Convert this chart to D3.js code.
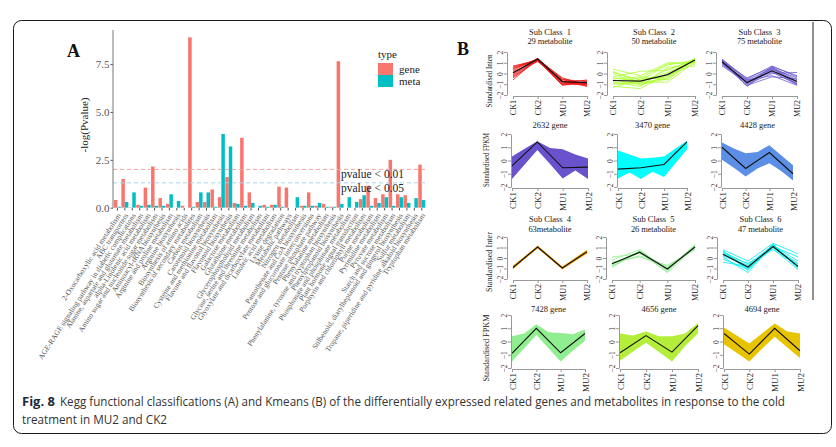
<!DOCTYPE html>
<html><head><meta charset="utf-8">
<script src="https://cdn.jsdelivr.net/npm/d3@7"></script>
<style>body{margin:0;background:#fff} svg{display:block}</style>
</head><body><svg id="c" width="836" height="447"></svg>
<script>
// ---------- DATA: panel A ----------
const categories = [
 "2-Oxocarboxylic acid metabolism","ABC transporters","AGE-RAGE signaling pathway in diabetic complications",
 "Alanine, aspartate and glutamate metabolism","alpha-Linolenic acid metabolism","Amino sugar and nucleotide sugar metabolism",
 "Aminoacyl-tRNA biosynthesis","Arginine and proline metabolism","Arginine biosynthesis","Biosynthesis of amino acids",
 "Biosynthesis of secondary metabolites","Carbon metabolism","Carotenoid biosynthesis","Cysteine and methionine metabolism",
 "Flavone and flavonol biosynthesis","Flavonoid biosynthesis","Galactose metabolism","Glutathione metabolism",
 "Glycerophospholipid metabolism","Glycine, serine and threonine metabolism","Glyoxylate and dicarboxylate metabolism",
 "Linoleic acid metabolism","Lysine degradation","Metabolic pathways","Nitrogen metabolism","Pantothenate and CoA biosynthesis",
 "Pentose and glucuronate interconversions","Pentose phosphate pathway","Phenylalanine metabolism",
 "Phenylalanine, tyrosine and tryptophan biosynthesis","Phenylpropanoid biosynthesis","Phosphonate and phosphinate metabolism",
 "Plant hormone signal transduction","Porphyrin and chlorophyll metabolism","Purine metabolism","Pyrimidine metabolism",
 "Pyruvate metabolism","Starch and sucrose metabolism","Stilbenoid, diarylheptanoid and gingerol biosynthesis",
 "Sulfur metabolism","Tropane, piperidine and pyridine alkaloid biosynthesis","Tryptophan metabolism"
];
const geneValues = [0.4,1.5,0.02,0.15,1.05,2.15,0.5,0.2,0.0,0.1,8.9,0.3,0.3,0.95,0.55,1.6,0.25,3.65,0.8,0.0,0.15,
  0.15,1.1,1.05,0.0,0.1,0.8,0.1,0.2,0.05,7.65,0.0,0.0,0.45,1.15,0.5,0.7,2.5,0.7,0.65,0.0,2.25];
const metaValues = [0.05,0.3,0.8,0.1,0.15,0.1,0.1,0.7,0.35,0.0,0.05,0.8,0.8,0.05,3.85,3.2,0.2,0.1,0.25,0.1,0.05,
  0.15,0.05,0.0,0.55,0.1,0.1,0.25,0.05,0.05,0.2,0.55,0.3,0.65,0.1,0.25,0.55,0.1,0.55,0.25,0.5,0.4];
const seriesTypes = ["gene","meta"];
const yTicksA = [0,2.5,5,7.5];
const thresholdValues = [2, 1.3];
const thresholdLabels = ["pvalue < 0.01","pvalue < 0.05"];

// ---------- DATA: panel B ----------
const conditions = ["CK1","CK2","MU1","MU2"];
const envX = [0,0.5,1,1.5,2,2.5,3];
const metTitles = ["Sub Class  1","Sub Class  2","Sub Class  3","Sub Class  4","Sub Class  5","Sub Class  6"];
const metCounts = ["29 metabolite","50 metabolite","75 metabolite","63metabolite","26 metabolite","47 metabolite"];
const geneCounts = ["2632 gene","3470 gene","4428 gene","7428 gene","4656 gene","4694 gene"];
const metMeans = [
 [0.05,1.35,-0.75,-0.85],[-0.65,-0.7,-0.1,1.25],[1.1,-0.85,0.25,-0.75],
 [-0.9,1.05,-0.95,0.6],[-0.55,0.55,-1.05,1.05],[0.35,-0.85,1.1,-0.8]];
const metLines1 = [[0.7,1.2,-0.5,-1.0],[0.5,1.3,-0.4,-1.1],[0.3,1.4,-0.9,-0.6],[0.1,1.35,-1.0,-0.8],[-0.2,1.3,-0.7,-1.2],
 [-0.4,1.2,-1.1,-0.7],[-0.6,1.4,-0.8,-0.9],[0.2,1.1,-0.6,-0.7],[0.45,1.25,-1.05,-1.0],[-0.1,1.4,-0.55,-1.15],
 [0.6,1.3,-0.75,-0.95],[-0.3,1.25,-0.95,-0.85]];
const metLines2 = [[0.4,-0.2,1.0,1.0],[0.1,-0.6,0.8,1.2],[-0.3,0.2,0.3,1.4],[-0.6,-1.0,-0.5,1.3],[-0.9,-0.8,-0.8,1.1],
 [-1.2,-1.4,0.0,1.3],[-1.3,-0.5,-0.3,1.4],[-0.8,-1.2,0.6,0.7],[-0.5,-0.3,-0.6,1.35],[-1.0,-0.9,0.4,1.25],[0.0,-1.1,-0.2,0.9],
 [-0.4,-0.7,0.1,1.15],[-0.7,-0.4,0.9,1.05],[0.2,-0.9,-0.4,1.3]];
const metLines3 = [[1.35,-0.5,0.7,-0.3],[1.2,-1.2,0.5,-1.0],[1.0,-0.9,0.6,-0.6],[0.8,-0.6,-0.2,-1.1],[1.3,-1.0,0.0,0.1],
 [0.7,-0.8,0.3,-0.9],[1.1,-0.4,0.55,-0.8],[0.9,-1.1,-0.3,-0.5],[1.25,-0.7,0.2,-1.05],[1.15,-1.15,0.65,-0.2],
 [1.05,-0.95,0.4,-0.7],[0.95,-0.75,0.1,-0.95],[1.3,-0.6,0.45,-0.4]];
const metLines4 = [[-0.8,1.1,-0.9,0.7],[-1.0,1.0,-1.0,0.5],[-0.85,1.15,-0.85,0.75],[-0.95,0.95,-1.05,0.45],
 [-0.75,1.05,-0.9,0.65],[-1.05,1.1,-0.95,0.55],[-0.9,1.0,-1.0,0.6]];
const metLines5 = [[0.1,0.4,-0.8,0.9],[-0.2,0.8,-1.2,1.3],[-0.5,0.2,-0.9,1.1],[-0.8,0.6,-1.4,1.0],[-0.9,0.7,-1.1,1.2],
 [-0.4,0.1,-0.7,0.8],[-0.7,0.5,-1.3,1.25],[-0.6,0.65,-1.0,1.05]];
const metLines6 = [[0.8,-0.3,1.4,0.4],[0.6,-0.6,1.2,-0.3],[0.4,-1.0,0.9,-1.1],[0.1,-1.4,1.3,-0.9],[-0.4,-0.8,1.0,-0.6],
 [0.7,-1.2,1.35,-1.0],[0.3,-0.5,0.8,-0.7],[-0.1,-1.1,1.1,0.1],[0.5,-0.9,1.25,-0.95],[0.2,-0.7,1.15,-0.85],[0.65,-1.0,1.05,-0.5]];
const metLines = [metLines1,metLines2,metLines3,metLines4,metLines5,metLines6];
const geneMeans = [
 [-0.4,1.4,-0.55,-0.5],[-0.65,-0.55,-0.3,1.4],[1.0,-0.6,0.6,-1.0],
 [-0.9,1.0,-0.85,0.6],[-0.85,0.45,-0.8,1.2],[0.6,-0.95,1.0,-0.7]];
const geneUpper = [
 [0.3,0.88,1.45,0.95,0.85,0.45,0.15],[0.75,0.45,0.15,0.2,0.3,0.9,1.5],[1.35,0.9,0.55,0.65,1.15,0.4,-0.35],
 [0.4,0.6,1.3,0.7,0.65,0.55,0.9],[0.6,0.45,0.75,0.4,0.4,0.6,1.4],[1.05,0.45,-0.15,0.6,1.35,0.75,0.6]];
const geneLower = [
 [-1.4,-0.3,0.8,-0.27,-1.35,-0.75,-1.4],[-1.35,-0.9,-1.4,-0.85,-1.25,-0.2,0.85],[0.05,-0.55,-1.2,-0.6,-0.2,-0.8,-1.5],
 [-1.5,-0.5,0.5,-0.5,-1.5,-0.7,0.05],[-1.45,-0.75,-0.1,-0.8,-1.5,-0.35,0.6],[-0.2,-0.85,-1.5,-0.55,0.35,-0.45,-1.25]];
const metColors = ["#f01010","#adff2f","#6a5acd","#ffa500","#90ee90","#00f0f0"];
const geneColors = ["#6a52cc","#00ffff","#5b8fe6","#90ee90","#b4ee3a","#e8c300"];

// ---------- DRAW ----------
const svg = d3.select("#c");
const serif = "'Liberation Serif','Times New Roman',serif";

// frame
svg.append("rect").attr("x",13.5).attr("y",20.5).attr("width",818).attr("height",413).attr("rx",8)
  .attr("fill","none").attr("stroke","#1a1a1a").attr("stroke-width",1);

// ===== Panel A =====
const gA = svg.append("g");
gA.append("text").attr("x",67).attr("y",57).text("A").attr("font-family",serif).attr("font-weight","bold")
  .attr("font-size",18).attr("fill","#111");
const xA = d3.scaleBand().domain(categories).range([113.8,425.4]).paddingInner(0.06).paddingOuter(0.02);
const yA = d3.scaleLinear().domain([0,9.28]).range([207.7,30]);
const sub = d3.scaleBand().domain(seriesTypes).range([0,xA.bandwidth()]);
const typeColors = {gene:"#F8766D", meta:"#00BFC4"};
const barData = [];
categories.forEach((c,i)=>{ barData.push({c,t:"gene",v:geneValues[i]}); barData.push({c,t:"meta",v:metaValues[i]}); });
gA.selectAll("rect.bar").data(barData).join("rect").attr("class","bar")
  .attr("x",d=>xA(d.c)+sub(d.t)).attr("width",sub.bandwidth())
  .attr("y",d=>yA(d.v)).attr("height",d=>yA(0)-yA(d.v)).attr("fill",d=>typeColors[d.t]);

// threshold lines
const thrColors = ["#f4a3a0","#a6d8ee"];
thresholdValues.forEach((v,i)=>{
  gA.append("line").attr("x1",113).attr("x2",427).attr("y1",yA(v)).attr("y2",yA(v))
    .attr("stroke",thrColors[i]).attr("stroke-width",1).attr("stroke-dasharray","4,3");
});
gA.append("text").attr("x",341).attr("y",177.5).text(thresholdLabels[0]).attr("font-family",serif).attr("font-size",11.5).attr("fill","#222");
gA.append("text").attr("x",341).attr("y",192).text(thresholdLabels[1]).attr("font-family",serif).attr("font-size",11.5).attr("fill","#222");

// y axis
const yAxA = gA.append("g").attr("transform","translate(113,0)")
  .call(d3.axisLeft(yA).tickValues(yTicksA).tickFormat(d3.format(".1f")).tickSize(2.5).tickSizeOuter(0));
yAxA.select(".domain").remove();
yAxA.append("line").attr("x1",0).attr("x2",0).attr("y1",30).attr("y2",208).attr("stroke","#777").attr("stroke-width",1);
yAxA.selectAll(".tick line").attr("stroke","#555");
yAxA.selectAll(".tick text").attr("font-family",serif).attr("font-size",11).attr("fill","#555").attr("x",-3.5);
gA.append("text").attr("transform","translate(88,125) rotate(-90)").attr("text-anchor","middle")
  .text("-log(Pvalue)").attr("font-family",serif).attr("font-size",11).attr("fill","#222");

// x axis
const xAxA = gA.append("g").attr("transform","translate(0,208)")
  .call(d3.axisBottom(xA).tickSize(2.5).tickSizeOuter(0));
xAxA.select(".domain").remove();
xAxA.selectAll(".tick line").attr("stroke","#555");
xAxA.selectAll(".tick text").attr("font-family",serif).attr("font-size",7.5).attr("fill","#555")
  .attr("text-anchor","end").attr("x",0).attr("y",0).attr("dy","0.35em")
  .attr("transform","translate(1.5,6) rotate(-57)");

// legend
const lg = gA.append("g");
lg.append("text").attr("x",378).attr("y",58).text("type").attr("font-family",serif).attr("font-size",11).attr("fill","#222");
seriesTypes.forEach((t,i)=>{
  lg.append("rect").attr("x",378).attr("y",63+i*12).attr("width",15).attr("height",12).attr("fill",typeColors[t]);
  lg.append("text").attr("x",399).attr("y",73+i*12).text(t).attr("font-family",serif).attr("font-size",11).attr("fill","#222");
});

// ===== Panel B =====
const gB = svg.append("g");
gB.append("text").attr("x",457).attr("y",55).text("B").attr("font-family",serif).attr("font-weight","bold")
  .attr("font-size",18).attr("fill","#111");
gB.append("line").attr("x1",813).attr("x2",813).attr("y1",22).attr("y2",300).attr("stroke","#222").attr("stroke-width",1);

const rows = [
 {kind:"met", y2:52, ym2:95, cols:[[513,587],[613,695],[722,797]], t1:34.5, t2:43.5, ylab:"Standardised Inten", ylx:492, yly:81, yll:53},
 {kind:"gene", y2:134, ym2:187, cols:[[512,588],[618,687],[722,793]], t1:128, ylab:"Standardised FPKM", ylx:489, yly:160, yll:54},
 {kind:"met", y2:237, ym2:279, cols:[[513,587],[612,695],[723,798]], t1:222, t2:231.5, ylab:"Standardised Inter", ylx:492, yly:262, yll:60},
 {kind:"gene", y2:315, ym2:368, cols:[[512,585],[620,698],[724,800]], t1:311.5, ylab:"Standardised FPKM", ylx:489, yly:348, yll:67}
];

rows.forEach((r,ri)=>{
  gB.append("text").attr("transform",`translate(${r.ylx},${r.yly}) rotate(-90)`).attr("text-anchor","middle")
    .text(r.ylab).attr("font-family",serif).attr("font-size",8).attr("fill","#222")
    .attr("textLength",r.yll).attr("lengthAdjust","spacingAndGlyphs");
  r.cols.forEach(([x0,x1],ci)=>{
    const k = (ri<2?0:3)+ci;
    const g = gB.append("g");
    const x = d3.scalePoint().domain(conditions).range([x0,x1]);
    const xl = d3.scaleLinear().domain([0,3]).range([x0,x1]);
    const y = d3.scaleLinear().domain([-2,2]).range([r.ym2,r.y2]);
    const cx = (x0+x1)/2;
    const line = d3.line().x((d,i)=>x(conditions[i])).y(d=>y(d));
    if(r.kind==="met"){
      g.append("text").attr("x",cx).attr("y",r.t1).attr("text-anchor","middle").text(metTitles[k])
        .attr("font-family",serif).attr("font-size",8.5).attr("fill","#222").style("white-space","pre")
        .attr("textLength",42).attr("lengthAdjust","spacing");
      g.append("text").attr("x",cx).attr("y",r.t2).attr("text-anchor","middle").text(metCounts[k])
        .attr("font-family",serif).attr("font-size",8.5).attr("fill","#222")
        .attr("textLength",k===3?43:45).attr("lengthAdjust","spacing");
      g.selectAll("path.m").data(metLines[k]).join("path").attr("class","m").attr("d",line)
        .attr("fill","none").attr("stroke",metColors[k]).attr("stroke-width",1).attr("stroke-opacity",0.8);
      g.append("path").attr("d",line(metMeans[k])).attr("fill","none").attr("stroke","#111").attr("stroke-width",1.2);
    } else {
      g.append("text").attr("x",cx).attr("y",r.t1).attr("text-anchor","middle").text(geneCounts[k])
        .attr("font-family",serif).attr("font-size",8.5).attr("fill","#222");
      const area = d3.area().x((d,i)=>xl(envX[i])).y0((d,i)=>y(geneLower[k][i])).y1(d=>y(d));
      g.append("path").attr("d",area(geneUpper[k])).attr("fill",geneColors[k]);
      g.append("path").attr("d",line(geneMeans[k])).attr("fill","none").attr("stroke","#111").attr("stroke-width",1.1);
    }
    const off = r.kind==="met"?6:1;
    const ya = g.append("g").attr("transform",`translate(${x0-off},0)`)
      .call(d3.axisLeft(y).tickValues([-2,-1,0,1,2]).tickFormat(d=>d<0?"\u2212"+(-d):d).tickSize(3).tickSizeOuter(0));
    ya.select(".domain").attr("stroke","#999");
    ya.selectAll(".tick line").attr("stroke","#999");
    ya.selectAll(".tick text").attr("font-family",serif).attr("font-size",7.5).attr("fill","#333")
      .attr("text-anchor","middle").attr("x",0).attr("y",-4.5).attr("dy",0).attr("transform","rotate(-90)");
    const xa = g.append("g").attr("transform",`translate(0,${r.ym2+1})`)
      .call(d3.axisBottom(x).tickSize(3).tickSizeOuter(0));
    xa.select(".domain").attr("stroke","#999");
    xa.selectAll(".tick line").attr("stroke","#999");
    xa.selectAll(".tick text").attr("font-family",serif).attr("font-size",r.kind==="met"?8:9).attr("fill","#222")
      .attr("text-anchor","end").attr("x",-4).attr("y",0).attr("dy","0.35em").attr("transform","rotate(-90)");
  });
});

// caption
const sans = "'Liberation Sans Narrow','Open Sans','Liberation Sans',sans-serif";
svg.append("text").attr("x",22).attr("y",406).text("Fig. 8").attr("font-family",sans).attr("font-weight","bold")
  .attr("font-size",12).attr("fill","#1c2a3a").attr("textLength",33).attr("lengthAdjust","spacingAndGlyphs");
svg.append("text").attr("x",60).attr("y",406)
  .text("Kegg functional classifications (A) and Kmeans (B) of the differentially expressed related genes and metabolites in response to the cold")
  .attr("font-family",sans).attr("font-size",12).attr("fill","#333").attr("textLength",725).attr("lengthAdjust","spacingAndGlyphs");
svg.append("text").attr("x",22).attr("y",424).text("treatment in MU2 and CK2")
  .attr("font-family",sans).attr("font-size",12).attr("fill","#333").attr("textLength",145).attr("lengthAdjust","spacingAndGlyphs");
</script></body></html>
